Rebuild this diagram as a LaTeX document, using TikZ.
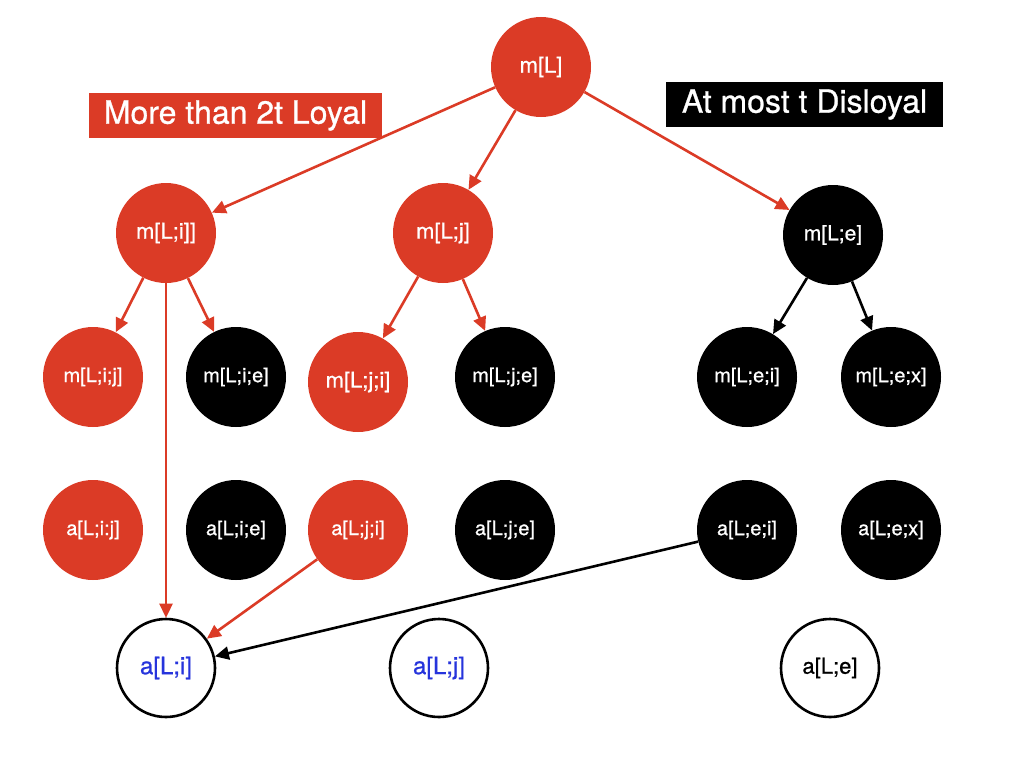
\documentclass[tikz,border=0pt]{standalone}
\usepackage{fontspec}
\setmainfont{TeX Gyre Heros}[FakeBold=0.8]
\usetikzlibrary{arrows.meta}
\definecolor{kred}{RGB}{219,59,38}
\definecolor{kblue}{RGB}{38,52,220}
\begin{document}
\begin{tikzpicture}[x=1pt,y=-1pt,
  nd/.style={circle,minimum size=100pt,inner sep=0pt,text=white,font=\fontsize{20}{24}\selectfont},
  rn/.style={nd,fill=kred},
  bn/.style={nd,fill=black},
  wn/.style={nd,draw=black,line width=2.6pt,minimum size=98pt,fill=white,font=\fontsize{24}{28}\selectfont},
  re/.style={draw=kred,line width=2.6pt,-{Triangle[length=14pt,width=13pt]}},
  be/.style={draw=black,line width=2.6pt,-{Triangle[length=14pt,width=13pt]}},
  lab/.style={font=\fontsize{32}{38}\selectfont,text=white,inner sep=0pt,minimum height=45pt}
]
\useasboundingbox (0,0) rectangle (1024,768);
% labels
\node[lab,fill=kred,minimum width=293pt] (loyal) at (235.5,115.5) {More than 2t Loyal};
\node[lab,fill=black,minimum width=277pt] (disloyal) at (804.5,104.5) {At most t Disloyal};
% top
\node[rn,font=\fontsize{22}{26}\selectfont] (mL) at (541,67) {m[L]};
% row 1
\node[rn,font=\fontsize{22}{26}\selectfont] (mLi) at (166,233) {m[L;i]]};
\node[rn,font=\fontsize{22}{26}\selectfont] (mLj) at (443,233) {m[L;j]};
\node[bn,font=\fontsize{21}{26}\selectfont] (mLe) at (833,235) {m[L;e]};
% row 2
\node[rn] (mLij) at (93,377) {m[L;i;j]};
\node[bn] (mLie) at (236,377) {m[L;i;e]};
\node[rn,font=\fontsize{22}{26}\selectfont] (mLji) at (358,382) {m[L;j;i]};
\node[bn] (mLje) at (505,377) {m[L;j;e]};
\node[bn] (mLei) at (747,377) {m[L;e;i]};
\node[bn] (mLex) at (891,377) {m[L;e;x]};
% row 3
\node[rn] (aLij) at (93,530) {a[L;i:j]};
\node[bn] (aLie) at (236,530) {a[L;i;e]};
\node[rn] (aLji) at (358,530) {a[L;j;i]};
\node[bn] (aLje) at (505,530) {a[L;j;e]};
\node[bn] (aLei) at (747,530) {a[L;e;i]};
\node[bn] (aLex) at (891,530) {a[L;e;x]};
% row 4
\node[wn,text=kblue] (aLi) at (166,668) {a[L;i]};
\node[wn,text=kblue] (aLjj) at (439,668) {a[L;j]};
\node[wn,text=black,font=\fontsize{22}{26}\selectfont] (aLe) at (830,668) {a[L;e]};
% edges
\draw[re] (mL) -- (mLi);
\draw[re] (mL) -- (mLj);
\draw[re] (mL) -- (mLe);
\draw[re] (mLi) -- (mLij);
\draw[re] (mLi) -- (mLie);
\draw[re] (mLi) -- (aLi);
\draw[re] (mLj) -- (mLji);
\draw[re] (mLj) -- (mLje);
\draw[be] (mLe) -- (mLei);
\draw[be] (mLe) -- (mLex);
\draw[re] (aLji) -- (aLi);
\draw[be] (aLei) -- (aLi);
\end{tikzpicture}
\end{document}
